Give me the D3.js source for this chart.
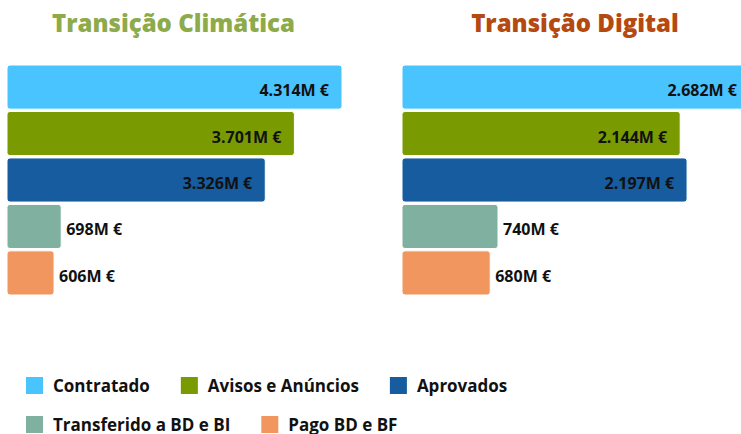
<!DOCTYPE html>
<html>
<head>
<meta charset="utf-8">
<script src="https://cdn.jsdelivr.net/npm/d3@7"></script>
<style>
    body { margin: 0; background: #fff; }
    svg text { font-family: "Open Sans", sans-serif; font-weight: bold; }
</style>
</head>
<body>
<script>

//=========================== data ============================================

var categories   = ["Contratado", "Avisos e Anúncios", "Aprovados", "Transferido a BD e BI", "Pago BD e BF"];
var colors       = ["#49c4fe", "#7a9a01", "#175c9e", "#80b0a0", "#f0965e"];
var climaValues  = [4314, 3701, 3326, 698, 606];
var digitalValues = [2682, 2144, 2197, 740, 680];
var panelTitles  = ["Transição Climática", "Transição Digital"];
var titleColors  = ["#8dab4a", "#b5490f"];

//=========================== drawing =========================================

var width  = 741,
    height = 434;

var svg = d3.select("body").append("svg")
    .attr("width", width)
    .attr("height", height);

var y = d3.scaleBand()
    .domain(categories)
    .range([65, 295])
    .paddingInner(0.05)
    .paddingOuter(0);

function fmt(v) {
    // portuguese thousands separator
    return d3.format(",")(v).replace(/,/g, ".") + "M €";
}

function drawPanel(values, title, titleColor, x0, x1) {

    var x = d3.scaleLinear()
        .domain([0, d3.max(values)])
        .range([x0, x1]);

    var g = svg.append("g");

    g.append("text")
        .attr("x", (x0 + x1) / 2 - 1)
        .attr("y", 32)
        .attr("text-anchor", "middle")
        .style("font-size", "24px")
        .style("font-weight", 800)
        .style("fill", titleColor)
        .text(title);

    var rows = g.selectAll(".row")
        .data(values)
        .enter().append("g")
        .attr("class", "row");

    rows.append("rect")
        .attr("x", x(0))
        .attr("y", (d, i) => y(categories[i]))
        .attr("width", d => x(d) - x(0))
        .attr("height", y.bandwidth())
        .attr("rx", 3)
        .style("fill", (d, i) => colors[i])
        .style("stroke", "#ffffff")
        .style("stroke-width", 1);

    rows.append("text")
        .attr("x", d => (x(d) - x(0) > 100) ? x(d) - 13 : x(d) + 5)
        .attr("y", (d, i) => y(categories[i]) + y.bandwidth() / 2 + 9)
        .attr("text-anchor", d => (x(d) - x(0) > 100) ? "end" : "start")
        .style("font-size", "16px")
        .style("fill", "#111")
        .text(d => fmt(d));
}

drawPanel(climaValues,   panelTitles[0], titleColors[0], 7,   342);
drawPanel(digitalValues, panelTitles[1], titleColors[1], 402, 750);

// legend
var legendRows = [[0, 1, 2], [3, 4]];
var legendY    = [385.5, 424.5];

legendRows.forEach(function(row, r) {
    var cx = 26;
    row.forEach(function(ci) {
        var item = svg.append("g").attr("transform", "translate(" + cx + "," + legendY[r] + ")");
        item.append("rect")
            .attr("x", 0)
            .attr("y", -8.5)
            .attr("width", 17)
            .attr("height", 17)
            .style("fill", colors[ci]);
        var t = item.append("text")
            .attr("x", 27)
            .attr("y", 6)
            .style("font-size", "17px")
            .style("fill", "#111")
            .text(categories[ci]);
        cx += 27 + t.node().getComputedTextLength() + 31;
    });
});

</script>
</body>
</html>
